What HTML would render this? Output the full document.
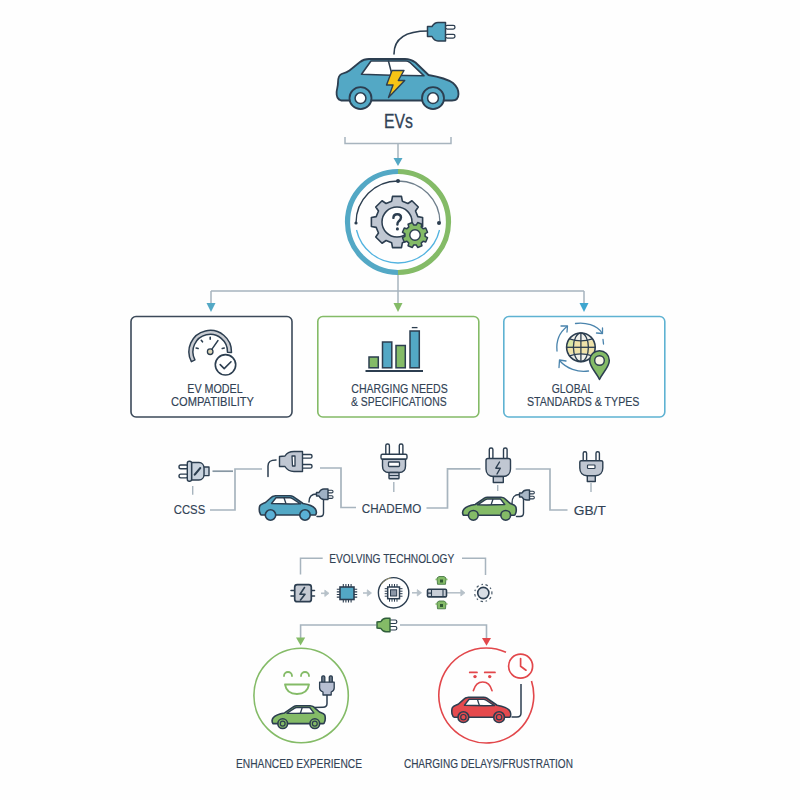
<!DOCTYPE html>
<html><head><meta charset="utf-8">
<style>
html,body{margin:0;padding:0;background:#fefefe;}
svg{display:block;font-family:"Liberation Sans", sans-serif;}
</style></head>
<body>
<svg width="800" height="800" viewBox="0 0 800 800">
<rect width="800" height="800" fill="#fefefe"/>

<g stroke="#2c3e50" stroke-linejoin="round" stroke-linecap="round">
  <path d="M394,54 C394,38 406,31 428,31" fill="none" stroke-width="1.6"/>
  <path d="M427.5,26.5 L432,26.5 C433.5,24 435,22.5 438,22.5 L445.5,22.5 L445.5,41 L438,41 C435,41 433.5,39.5 432,36.5 L427.5,36.5 Z" fill="#53a8c5" stroke-width="1.5"/>
  <rect x="445.5" y="25.4" width="9.5" height="3.7" rx="1.8" fill="#fff" stroke-width="1.3"/>
  <rect x="445.5" y="34.4" width="9.5" height="3.7" rx="1.8" fill="#fff" stroke-width="1.3"/>
  <path d="M341,100.5 C338,99.5 336.3,96 336.6,92 C336.8,89 338,86.5 338,82.5 C338,78 339,75 341.5,74 C344.5,73.2 347,72.5 349.5,70.5 L360,62 C362.5,60 365,59 369,59 L405,59 C409,59 412,60 415.5,62.5 L428.5,75 C440,77 448,79.5 453,83 C457,86.5 458.5,91 458.5,94 C458.5,98 456,100.5 452,100.5 Z" fill="#53a8c5" stroke-width="1.8"/>
  <path d="M361.5,74.2 L371,61 L406,61 C407.5,61 408.5,61.5 410,62.5 L424,75.8 C403,75.5 382,75 361.5,74.2 Z" fill="#fff" stroke-width="1.6"/>
  <path d="M388.5,61.3 L392,74.8" fill="none" stroke-width="1.5"/>
  <path d="M392,70.5 L404,70.5 L398.3,80.5 L404.7,80.5 L388.5,97.5 L393,85 L386.5,85 Z" fill="#f6c416" stroke-width="1.4"/>
  <circle cx="360.5" cy="98.2" r="11" fill="#53a8c5" stroke-width="1.8"/>
  <circle cx="360.5" cy="98.2" r="5.4" fill="#fff" stroke-width="1.5"/>
  <circle cx="433" cy="98.2" r="11" fill="#53a8c5" stroke-width="1.8"/>
  <circle cx="433" cy="98.2" r="5.4" fill="#fff" stroke-width="1.5"/>
</g>

<text x="398.5" y="128" font-size="19.5" text-anchor="middle" fill="#314255" stroke="#314255" stroke-width="0.3" textLength="29" lengthAdjust="spacingAndGlyphs" >EVs</text>

<path d="M345,137 L345,143.5 L451,143.5 L451,137" fill="none" stroke="#a7b4be" stroke-width="1.5"/>
<path d="M398,143.5 L398,160" stroke="#a7b4be" stroke-width="1.5"/>
<path d="M393.5,158 L402.5,158 L398,166 Z" fill="#53a8c5"/>


<path d="M398,171.5 A50.5,50.5 0 0 0 398,272.5" fill="none" stroke="#53a8c5" stroke-width="5.2"/>
<path d="M398,171.5 A50.5,50.5 0 0 1 398,272.5" fill="none" stroke="#84bb67" stroke-width="5.2"/>
<path d="M356,223 A42,42 0 0 1 398,181 " fill="none" stroke="#2c3e50" stroke-width="1.4"/>
<path d="M398,181 A42,42 0 0 1 440,223" fill="none" stroke="#6f7f8c" stroke-width="1.3"/>
<circle cx="398" cy="181" r="2" fill="#2c3e50"/>
<circle cx="356" cy="223" r="1.6" fill="#2c3e50"/>
<circle cx="439" cy="223" r="2" fill="#2c3e50"/>
<path d="M356.5,230 A42.6,42.6 0 0 0 439.5,230" fill="none" stroke="#52b3e0" stroke-width="1.3"/>

<path d="M391.65,201.18 L392.53,196.39 L401.47,196.39 L402.35,201.18 L407.94,203.49 L411.95,200.73 L418.27,207.05 L415.51,211.06 L417.82,216.65 L422.61,217.53 L422.61,226.47 L417.82,227.35 L415.51,232.94 L418.27,236.95 L411.95,243.27 L407.94,240.51 L402.35,242.82 L401.47,247.61 L392.53,247.61 L391.65,242.82 L386.06,240.51 L382.05,243.27 L375.73,236.95 L378.49,232.94 L376.18,227.35 L371.39,226.47 L371.39,217.53 L376.18,216.65 L378.49,211.06 L375.73,207.05 L382.05,200.73 L386.06,203.49Z" fill="#c0c7d2" stroke="#2c3e50" stroke-width="1.6" stroke-linejoin="round"/>
<circle cx="397" cy="222" r="15" fill="#fff" stroke="#2c3e50" stroke-width="1.5"/>
<path d="M393.4,217.9 C393.4,215.2 395.2,214.2 397.3,214.2 C399.6,214.2 401,215.6 401,217.6 C401,219.6 399.7,220.5 398.6,221.4 C397.7,222.2 397.4,222.9 397.4,224.6" fill="none" stroke="#2c3e50" stroke-width="2.4" stroke-linecap="round"/>
<circle cx="397.4" cy="228.9" r="1.55" fill="#2c3e50"/>
<path d="M423.11,228.81 L425.75,228.06 L427.51,232.31 L425.11,233.64 L425.11,236.36 L427.51,237.69 L425.75,241.94 L423.11,241.19 L421.19,243.11 L421.94,245.75 L417.69,247.51 L416.36,245.11 L413.64,245.11 L412.31,247.51 L408.06,245.75 L408.81,243.11 L406.89,241.19 L404.25,241.94 L402.49,237.69 L404.89,236.36 L404.89,233.64 L402.49,232.31 L404.25,228.06 L406.89,228.81 L408.81,226.89 L408.06,224.25 L412.31,222.49 L413.64,224.89 L416.36,224.89 L417.69,222.49 L421.94,224.25 L421.19,226.89Z" fill="#84bb67" stroke="#2c3e50" stroke-width="1.5" stroke-linejoin="round"/>
<circle cx="415" cy="235" r="5.2" fill="#fff" stroke="#2c3e50" stroke-width="1.4"/>

<path d="M398,275 L398,303" stroke="#a7b4be" stroke-width="1.5"/>
<path d="M211,291 L584,291 M211,291 L211,304 M584,291 L584,304" fill="none" stroke="#a7b4be" stroke-width="1.5"/>
<path d="M206.5,303 L215.5,303 L211,312 Z" fill="#53a8c5"/>
<path d="M393.5,303 L402.5,303 L398,312 Z" fill="#84bb67"/>
<path d="M579.5,303 L588.5,303 L584,312 Z" fill="#3fa6cf"/>

<rect x="131" y="316.5" width="161" height="100.5" rx="5" fill="#fff" stroke="#3c4a5a" stroke-width="1.6"/>
<rect x="317.8" y="316.5" width="161" height="100.5" rx="5" fill="#fff" stroke="#84bb67" stroke-width="1.6"/>
<rect x="503.8" y="316.5" width="161" height="100.5" rx="5" fill="#fff" stroke="#5eb2d2" stroke-width="1.6"/>
<path d="M191.39,361.70 A21.3,21.3 0 1 1 231.49,352.44 L227.49,352.30 A17.3,17.3 0 1 0 194.93,359.82 Z" fill="#c9ccd2" stroke="#2c3e50" stroke-width="1.5" stroke-linejoin="round"/>
<path d="M198.13,348.46 L196.19,347.95 M202.50,341.85 L201.27,340.27 M210.20,339.20 L210.20,337.20 M222.27,348.46 L224.21,347.95 " stroke="#2c3e50" stroke-width="1.6" stroke-linecap="round"/>
<path d="M210.2,351.7 L218,340.5" stroke="#2c3e50" stroke-width="1.4" stroke-linecap="round"/>
<circle cx="210.2" cy="351.7" r="2.8" fill="#ddd6b8" stroke="#2c3e50" stroke-width="1.3"/>
<circle cx="225.5" cy="364.8" r="10.2" fill="#fff" stroke="#2c3e50" stroke-width="1.6"/>
<path d="M220.2,364.6 L224.2,368.6 L231,361.8" fill="none" stroke="#2c3e50" stroke-width="1.6" stroke-linecap="round" stroke-linejoin="round"/>
<text x="215" y="392.5" font-size="12.8" text-anchor="middle" fill="#314255" stroke="#314255" stroke-width="0.15" textLength="55.5" lengthAdjust="spacingAndGlyphs" >EV MODEL</text>
<text x="212.5" y="406.2" font-size="12.8" text-anchor="middle" fill="#314255" stroke="#314255" stroke-width="0.15" textLength="83" lengthAdjust="spacingAndGlyphs" >COMPATIBILITY</text>

<g stroke="#2c3e50" stroke-width="1.5">
<rect x="369" y="357" width="9.3" height="10.8" fill="#84bb67"/>
<rect x="382.5" y="342" width="9.3" height="25.8" fill="#53a8c5"/>
<rect x="396" y="345.5" width="9.3" height="22.3" fill="#84bb67"/>
<rect x="410" y="331" width="9.3" height="36.8" fill="#53a8c5"/>
</g>
<path d="M365.5,371 L423,371" stroke="#2c3e50" stroke-width="1.8"/>
<path d="M411.8,327.6 L417.5,327.6" stroke="#2c3e50" stroke-width="1.3"/>

<text x="399.5" y="392.5" font-size="12.8" text-anchor="middle" fill="#314255" stroke="#314255" stroke-width="0.15" textLength="96.5" lengthAdjust="spacingAndGlyphs" >CHARGING NEEDS</text>
<text x="398.8" y="406.2" font-size="12.8" text-anchor="middle" fill="#314255" stroke="#314255" stroke-width="0.15" textLength="95.5" lengthAdjust="spacingAndGlyphs" >&amp; SPECIFICATIONS</text>

<g fill="none" stroke="#4a84ad" stroke-width="1.3" stroke-linecap="round" stroke-linejoin="round">
<path d="M575.5,323.5 C585,322 597,325 602,333"/>
<path d="M596.5,333 L602.5,333.5 L602.5,328"/>
<path d="M557,351 C556,341 560,332 567,326.5"/>
<path d="M561,326 L567.5,326 L567,332"/>
<path d="M588.5,371 C578,373 566,368 560,361"/>
<path d="M559,367.5 L559.5,360 L566,361"/>
<path d="M603,339.5 L603.5,344"/>
</g>
<clipPath id="gclip"><circle cx="580.9" cy="347.3" r="14.3"/></clipPath>
<circle cx="580.9" cy="347.3" r="14.3" fill="#f0f0ea"/>
<g clip-path="url(#gclip)"><path d="M565.9,339.8 Q580.9,342.3 595.9,339.8 L595.9,354.8 Q580.9,352.3 565.9,354.8 Z" fill="#efe2a9"/>
<path d="M565.9,339.8 L573.9,340.3 L573.4,347.3 L565.9,347.3 Z" fill="#d9e6a3"/></g>
<circle cx="580.9" cy="347.3" r="14.3" fill="none" stroke="#2c3e50" stroke-width="1.6"/>
<g fill="none" stroke="#2c3e50" stroke-width="1.3">
<ellipse cx="580.9" cy="347.3" rx="7.5" ry="14.3"/>
<path d="M580.9,333.0 L580.9,361.6"/>
<path d="M566.6,347.3 L595.1999999999999,347.3"/>
<path d="M569.4,338.8 Q580.9,342.8 592.4,338.8"/>
<path d="M569.4,355.8 Q580.9,351.8 592.4,355.8"/>
</g>
<path d="M599.5,379.5 C596,372 589.7,367 589.7,360.5 A9.8,9.8 0 0 1 609.3,360.5 C609.3,367 603,372 599.5,379.5 Z" fill="#84bb67" stroke="#2c3e50" stroke-width="1.5" stroke-linejoin="round"/>
<circle cx="599.5" cy="360.5" r="4.8" fill="#f7f5e6" stroke="#2c3e50" stroke-width="1.4"/>

<text x="572.5" y="392.5" font-size="12.8" text-anchor="middle" fill="#314255" stroke="#314255" stroke-width="0.15" textLength="41.5" lengthAdjust="spacingAndGlyphs" >GLOBAL</text>
<text x="583.2" y="406.2" font-size="12.8" text-anchor="middle" fill="#314255" stroke="#314255" stroke-width="0.15" textLength="112.5" lengthAdjust="spacingAndGlyphs" >STANDARDS &amp; TYPES</text>

<g fill="none" stroke="#a7b4be" stroke-width="1.7">
<path d="M212.5,471.2 L233,471.2" stroke="#8797a3"/>
<path d="M262,469 L235,469 L235,510 L210,510"/>
<path d="M320,468 L341,468 L341,507.5 L356,507.5"/>
<path d="M426.5,508 L447.5,508 L447.5,468.8 L480.5,468.8"/>
<path d="M515.7,469 L550,469 L550,510 L567.5,510"/>
<path d="M192.7,486 L192.7,494.7" stroke-width="1.4"/>
<path d="M393.8,482 L393.8,492" stroke-width="1.4"/>
<path d="M497.7,485 L497.7,491" stroke-width="1.4"/>
<path d="M591,483 L591,492" stroke-width="1.4"/>
</g>


<g stroke="#2c3e50" stroke-width="1.4" stroke-linejoin="round">
<rect x="179" y="465" width="9" height="3.8" rx="1.8" fill="#fff"/>
<rect x="179" y="474.1" width="9" height="3.8" rx="1.8" fill="#fff"/>
<rect x="203.5" y="467" width="5.5" height="8.6" fill="#c9d3de"/>
<path d="M191.5,462.5 L199,462.5 C202,462.5 204,465 204,468 L204,474.5 C204,477.5 202,480 199,480 L191.5,480 Z" fill="#c9d3de"/>
<rect x="187.3" y="461.3" width="4.3" height="20" rx="2" fill="#c9d3de"/>
<path d="M194.3,474.3 L199.8,467.8 C200.5,467.3 201,467.8 200.6,468.5 L195.2,474.9 C194.5,475.4 194,474.9 194.3,474.3 Z" fill="#fff" stroke-width="1.1"/>
</g>

<text x="189.5" y="514.2" font-size="13" text-anchor="middle" fill="#314255" stroke="#314255" stroke-width="0.15" textLength="31.5" lengthAdjust="spacingAndGlyphs" >CCSS</text>

<g stroke="#2c3e50" stroke-width="1.4" stroke-linejoin="round" stroke-linecap="round">
<path d="M268,476.5 L268,466 C268,461 271,460 276,460" fill="none" stroke-width="1.5"/>
<rect x="301" y="454.5" width="11" height="3.6" rx="1.6" fill="#fff"/>
<rect x="301" y="464.5" width="11" height="3.6" rx="1.6" fill="#fff"/>
<path d="M279.5,456.5 L285,456 C287,452.5 290,451.5 294,451.5 L302.5,451.5 L302.5,471.5 L294,471.5 C290,471.5 287,470 285,466.5 L279.5,466.5 Z" fill="#c0c7d2"/>
<path d="M292,456 L295,456 L295,466 L292.5,466 Z" fill="#fff" stroke-width="1.3"/>
</g>

<g transform="translate(259,495.5) scale(1.0)" stroke="#2c3e50" stroke-width="1.60" stroke-linejoin="round">
<path d="M1,17.5 C0,16 0,11.5 1,10 C2,8.5 4,8 6.5,7 L11,3 C12.5,1.2 14,0.2 16.5,0.2 L31,0.2 C32.5,0.2 33.2,0.5 34.2,1.2 L44,8 C50,9 54,10.5 56,13 C57.5,15 57.5,18 56.5,19.5 L2.5,19.5 C1.8,19.5 1.2,18.5 1,17.5 Z" fill="#53a8c5"/>
<path d="M12.5,8 L17,2.2 L31,2.2 C32,2.2 32.6,2.5 33.5,3.1 L41.5,8.3 C32,8.6 22,8.4 12.5,8 Z" fill="#fff" stroke-width="1.40"/>
<path d="M25,2.2 L27,8.3" fill="none" stroke-width="1.30"/>
<circle cx="11.5" cy="19.5" r="5.2" fill="#5ab0d6"/>
<circle cx="46" cy="19.5" r="5.2" fill="#5ab0d6"/>

</g>

<g stroke="#2c3e50" stroke-width="1.4" stroke-linejoin="round" stroke-linecap="round">
<path d="M317,516.5 L320,516.5 C322,516.5 323.5,515 323.5,513 L323.5,499" fill="none"/>
<path d="M309,502 C309,496 312,494 316.5,494" fill="none"/>
<rect x="327.5" y="490.3" width="5.5" height="2.6" rx="1.2" fill="#fff" stroke-width="1.1"/>
<rect x="327.5" y="495.8" width="5.5" height="2.6" rx="1.2" fill="#fff" stroke-width="1.1"/>
<path d="M316.5,492.5 L319,492.5 C320,490.5 321.5,489 324,489 L328,489 L328,499.5 L324,499.5 C321.5,499.5 320,498 319,496 L316.5,496 Z" fill="#9fb1c4"/>
</g>

<text x="391.5" y="512.5" font-size="13" text-anchor="middle" fill="#314255" stroke="#314255" stroke-width="0.15" textLength="59.5" lengthAdjust="spacingAndGlyphs" >CHADEMO</text>

<g stroke="#2c3e50" stroke-width="1.4" stroke-linejoin="round">
<rect x="385.8" y="444" width="3.6" height="11" rx="1.6" fill="#fff"/>
<rect x="399.3" y="444" width="3.6" height="11" rx="1.6" fill="#fff"/>
<rect x="381" y="454.3" width="26" height="5" rx="1.5" fill="#fff"/>
<path d="M382.5,459.3 L405.5,459.3 L405.5,466 C405.5,470 403,472.5 399,472.5 L389,472.5 C385,472.5 382.5,470 382.5,466 Z" fill="#c0c7d2"/>
<rect x="388.5" y="462" width="11" height="4.5" rx="0.8" fill="#fff" stroke-width="1.3"/>
<rect x="389" y="472.5" width="10" height="6.3" rx="0.8" fill="#c0c7d2"/>
<path d="M389,475.5 L399,475.5" stroke-width="1"/>
</g>


<g stroke="#2c3e50" stroke-width="1.4" stroke-linejoin="round" stroke-linecap="round">
<rect x="489.3" y="448" width="3.6" height="11" rx="1.6" fill="#fff"/>
<rect x="503.5" y="448" width="3.6" height="11" rx="1.6" fill="#fff"/>
<path d="M486,460.5 C486,459 486.5,458.5 488,458.5 L508.5,458.5 C510,458.5 510.5,459 510.5,460.5 L510.5,469 C510.5,473.5 507.5,476.5 503,476.5 L493.5,476.5 C489,476.5 486,473.5 486,469 Z" fill="#c0c7d2"/>
<rect x="493.3" y="476.5" width="10" height="6" fill="#c0c7d2"/>
<path d="M499.5,462 L495.8,468.2 L500.3,468.2 L497,474" fill="none" stroke-width="1.4"/>
</g>

<g transform="translate(516.5,497) scale(-0.9391304347826087,0.9391304347826087)" stroke="#2c3e50" stroke-width="1.70" stroke-linejoin="round">
<path d="M1,17.5 C0,16 0,11.5 1,10 C2,8.5 4,8 6.5,7 L11,3 C12.5,1.2 14,0.2 16.5,0.2 L31,0.2 C32.5,0.2 33.2,0.5 34.2,1.2 L44,8 C50,9 54,10.5 56,13 C57.5,15 57.5,18 56.5,19.5 L2.5,19.5 C1.8,19.5 1.2,18.5 1,17.5 Z" fill="#84bb67"/>
<path d="M12.5,8 L17,2.2 L31,2.2 C32,2.2 32.6,2.5 33.5,3.1 L41.5,8.3 C32,8.6 22,8.4 12.5,8 Z" fill="#fff" stroke-width="1.49"/>
<path d="M25,2.2 L27,8.3" fill="none" stroke-width="1.38"/>
<circle cx="11.5" cy="19.5" r="5.2" fill="#84bb67"/>
<circle cx="46" cy="19.5" r="5.2" fill="#84bb67"/>

</g>

<g stroke="#2c3e50" stroke-width="1.4" stroke-linejoin="round" stroke-linecap="round">
<path d="M516.5,516.5 L520,516.5 C522,516.5 523.5,515 523.5,513 L523.5,499" fill="none"/>
<path d="M512,503.5 C512,497 514,494.5 519.5,494.5" fill="none"/>
<rect x="529" y="491.3" width="5.3" height="2.6" rx="1.2" fill="#fff" stroke-width="1.1"/>
<rect x="529" y="496.3" width="5.3" height="2.6" rx="1.2" fill="#fff" stroke-width="1.1"/>
<path d="M519.5,493 L522,493 C523,491 524.5,490 527,490 L529.5,490 L529.5,500 L527,500 C524.5,500 523,499 522,497 L519.5,497 Z" fill="#a9b7c6"/>
</g>


<g stroke="#2c3e50" stroke-width="1.4" stroke-linejoin="round">
<rect x="583.2" y="451.7" width="3.4" height="10" rx="1.5" fill="#fff"/>
<rect x="596" y="451.7" width="3.4" height="10" rx="1.5" fill="#fff"/>
<path d="M579.8,462 C579.8,461 580.3,460.7 581.3,460.7 L601.3,460.7 C602.3,460.7 602.8,461 602.8,462 L602.8,468 C602.8,472.5 600,475.7 595.5,475.7 L587,475.7 C582.5,475.7 579.8,472.5 579.8,468 Z" fill="#c0c7d2"/>
<rect x="587.5" y="465" width="7.5" height="3.5" rx="0.8" fill="#fff" stroke-width="1.2"/>
<rect x="587.3" y="475.7" width="8" height="5.8" fill="#c0c7d2"/>
</g>

<text x="589.8" y="514.6" font-size="13" text-anchor="middle" fill="#314255" stroke="#314255" stroke-width="0.15" textLength="32" lengthAdjust="spacingAndGlyphs" >GB/T</text>

<g fill="none" stroke="#a7b4be" stroke-width="1.5">
<path d="M300.5,574.5 L300.5,558.3 L322.7,558.3"/>
<path d="M462,558.3 L485.5,558.3 L485.5,575"/>
</g>

<text x="391.8" y="563.2" font-size="12" text-anchor="middle" fill="#314255" stroke="#314255" stroke-width="0.15" textLength="125" lengthAdjust="spacingAndGlyphs" >EVOLVING TECHNOLOGY</text>

<g stroke="#2c3e50" stroke-width="1.5" stroke-linecap="round" stroke-linejoin="round">
<path d="M291,590.5 L294.7,590.5 M291,596 L294.7,596 M311.3,590.5 L314.5,590.5 M311.3,596 L314.5,596" fill="none"/>
<rect x="294.7" y="584.7" width="16.6" height="17" rx="2.5" fill="#c5cad3" stroke-width="1.7"/>
<path d="M304.5,587.5 L300,594.3 L305,594.3 L300.5,600" fill="none" stroke-width="1.6"/>
</g>

<path d="M321,593.3 L327,593.3" stroke="#b7c1c9" stroke-width="1.6"/><path d="M324.8,590.0999999999999 L329,593.3 L324.8,596.5 Z" fill="#b7c1c9" stroke="#b7c1c9" stroke-width="0.8" stroke-linejoin="round"/>
<path d="M363,593 L369.5,593" stroke="#b7c1c9" stroke-width="1.6"/><path d="M367.3,589.8 L371.5,593 L367.3,596.2 Z" fill="#b7c1c9" stroke="#b7c1c9" stroke-width="0.8" stroke-linejoin="round"/>
<path d="M412,592.8 L419.5,592.8" stroke="#b7c1c9" stroke-width="1.6"/><path d="M417.3,589.5999999999999 L421.5,592.8 L417.3,596.0 Z" fill="#b7c1c9" stroke="#b7c1c9" stroke-width="0.8" stroke-linejoin="round"/>
<path d="M447,592.8 L463,592.8" stroke="#b7c1c9" stroke-width="1.6"/><path d="M460.8,589.5999999999999 L465,592.8 L460.8,596.0 Z" fill="#b7c1c9" stroke="#b7c1c9" stroke-width="0.8" stroke-linejoin="round"/>
<path d="M343.3,584 L343.3,587 M343.3,599.5 L343.3,602.5 M345.9,584 L345.9,587 M345.9,599.5 L345.9,602.5 M348.5,584 L348.5,587 M348.5,599.5 L348.5,602.5 M351.1,584 L351.1,587 M351.1,599.5 L351.1,602.5 M336.8,589.3 L340,589.3 M354,589.3 L357.2,589.3 M336.8,591.9 L340,591.9 M354,591.9 L357.2,591.9 M336.8,594.5 L340,594.5 M354,594.5 L357.2,594.5 M336.8,597.1 L340,597.1 M354,597.1 L357.2,597.1 " stroke="#2c3e50" stroke-width="1.1"/>
<rect x="340" y="587" width="14" height="12.5" fill="#53a8c5" stroke="#2c3e50" stroke-width="1.6"/>
<circle cx="393.6" cy="592.8" r="15.2" fill="#fff" stroke="#2c3e50" stroke-width="1.4"/>
<path d="M381,585 A15.2,15.2 0 0 1 391,577.8" fill="none" stroke="#d9c27a" stroke-width="1" opacity="0.6"/>
<path d="M389.5,584 L389.5,587 M389.5,598.7 L389.5,601.7 M392,584 L392,587 M392,598.7 L392,601.7 M394.5,584 L394.5,587 M394.5,598.7 L394.5,601.7 M397,584 L397,587 M397,598.7 L397,601.7 M384.7,588.7 L387.7,588.7 M399.5,588.7 L402.5,588.7 M384.7,591.2 L387.7,591.2 M399.5,591.2 L402.5,591.2 M384.7,593.7 L387.7,593.7 M399.5,593.7 L402.5,593.7 M384.7,596.2 L387.7,596.2 M399.5,596.2 L402.5,596.2 " stroke="#2c3e50" stroke-width="1"/>
<rect x="387.7" y="587" width="11.8" height="11.7" fill="#fff" stroke="#2c3e50" stroke-width="1.5"/>
<rect x="390.5" y="589.8" width="6.2" height="6.2" fill="#8a96a6" stroke="#2c3e50" stroke-width="1"/>

<rect x="427.5" y="589.3" width="19" height="7.6" rx="1.2" fill="#c8ced7" stroke="#2c3e50" stroke-width="1.6"/>
<path d="M431.5,589.3 L431.5,596.9 M427.5,593.1 L431.5,593.1 M443,589.3 L443,596.9" stroke="#2c3e50" stroke-width="1.1"/>

<g stroke="#3a6d3a" stroke-width="0.8">
<path d="M437.0,578.0 L439.0,576.5 L444.0,576.5 L446.0,578.0 L445.5,584.3 L437.5,584.3 Z" fill="#84bb67"/>
<path d="M435.5,579.5 L437.2,579.5 M445.8,579.5 L447.5,579.5" stroke="#84bb67" stroke-width="1.5"/>
<rect x="440.0" y="579.5" width="3" height="3" fill="#2f5a32" stroke="none"/>
</g>
<g stroke="#3a6d3a" stroke-width="0.8">
<path d="M437.0,602.5 L439.0,601 L444.0,601 L446.0,602.5 L445.5,608.8 L437.5,608.8 Z" fill="#84bb67"/>
<path d="M435.5,604 L437.2,604 M445.8,604 L447.5,604" stroke="#84bb67" stroke-width="1.5"/>
<rect x="440.0" y="604" width="3" height="3" fill="#2f5a32" stroke="none"/>
</g>
<circle cx="483.3" cy="593" r="5.6" fill="#d9dee5" stroke="#2c3e50" stroke-width="1.6"/>
<circle cx="483.3" cy="593" r="8.6" fill="none" stroke="#2c3e50" stroke-width="1.2" stroke-dasharray="1.5 2.6 2.5 3" opacity="0.85"/>

<g fill="none" stroke="#a7b4be" stroke-width="1.6">
<path d="M376.5,625 L300.6,625 L300.6,638"/>
<path d="M400,625 L486.5,625 L486.5,638"/>
</g>
<path d="M296,637.6 L305.2,637.6 L300.6,645.5 Z" fill="#84bb67"/>
<path d="M482,638 L491,638 L486.5,645.8 Z" fill="#e2474b"/>
<g stroke="#2f5e3a" stroke-width="1.4" stroke-linejoin="round">
<rect x="389" y="620" width="7.8" height="3.5" rx="1.5" fill="#fff" stroke="#2c3e50" stroke-width="1.2"/>
<rect x="389" y="626.5" width="7.8" height="3.5" rx="1.5" fill="#fff" stroke="#2c3e50" stroke-width="1.2"/>
<path d="M377,622 L381,621.5 C382,619.5 383.5,618.3 386,618.3 L390,618.3 L390,631.8 L386,631.8 C383.5,631.8 382,630.5 381,628.5 L377,628 Z" fill="#84bb67"/>
</g>

<circle cx="301.1" cy="695.5" r="47.2" fill="none" stroke="#84bb67" stroke-width="1.6"/>

<g fill="none" stroke="#84bb67" stroke-width="1.8" stroke-linecap="round">
<path d="M284,676 A4,4 0 0 1 292,676"/>
<path d="M301,676 A4,4 0 0 1 309,676"/>
</g>
<path d="M285,684.5 L309,684.5 C308,690.5 303.5,694 297,694 C290.5,694 286,690.5 285,684.5 Z" fill="#fff" stroke="#84bb67" stroke-width="1.8" stroke-linejoin="round"/>


<g stroke="#2c3e50" stroke-width="1.3" stroke-linejoin="round" stroke-linecap="round">
<path d="M327,695 L327,703.5 C327,706 325.5,707.2 323,707.2 L314,707.5" fill="none" stroke-width="1.5"/>
<rect x="321.8" y="675.8" width="3" height="7.5" rx="1.3" fill="#6d7a8a"/>
<rect x="329.3" y="675.8" width="3" height="7.5" rx="1.3" fill="#6d7a8a"/>
<path d="M319.6,682.2 L334.2,682.2 L334.2,688 C334.2,690 333,691.2 331.2,692 L331.2,695 L323,695 L323,692 C321,691.2 319.6,690 319.6,688 Z" fill="#b7bfd2"/>
</g>

<g transform="translate(325.5,705.5) scale(-0.9304347826086956,0.9304347826086956)" stroke="#2c3e50" stroke-width="1.72" stroke-linejoin="round">
<path d="M1,17.5 C0,16 0,11.5 1,10 C2,8.5 4,8 6.5,7 L11,3 C12.5,1.2 14,0.2 16.5,0.2 L31,0.2 C32.5,0.2 33.2,0.5 34.2,1.2 L44,8 C50,9 54,10.5 56,13 C57.5,15 57.5,18 56.5,19.5 L2.5,19.5 C1.8,19.5 1.2,18.5 1,17.5 Z" fill="#84bb67"/>
<path d="M12.5,8 L17,2.2 L31,2.2 C32,2.2 32.6,2.5 33.5,3.1 L41.5,8.3 C32,8.6 22,8.4 12.5,8 Z" fill="#fff" stroke-width="1.50"/>
<path d="M25,2.2 L27,8.3" fill="none" stroke-width="1.40"/>
<circle cx="11.5" cy="19.5" r="5.2" fill="#84bb67"/>
<circle cx="46" cy="19.5" r="5.2" fill="#84bb67"/>
<circle cx="11.5" cy="19.5" r="2.6" fill="#84bb67" stroke-width="1.29"/><circle cx="46" cy="19.5" r="2.6" fill="#84bb67" stroke-width="1.29"/>
</g>
<text x="299" y="767.8" font-size="12" text-anchor="middle" fill="#314255" stroke="#314255" stroke-width="0.15" textLength="126" lengthAdjust="spacingAndGlyphs" >ENHANCED EXPERIENCE</text>
<path d="M506,652.3 A47.5,47.5 0 1 0 531.5,681" fill="none" stroke="#e2474b" stroke-width="1.6"/>

<circle cx="520.6" cy="666.2" r="12" fill="#fff" stroke="#e2474b" stroke-width="1.7"/>
<path d="M520.6,658.6 L520.6,666.2 L526,670.2" fill="none" stroke="#e2474b" stroke-width="1.7" stroke-linecap="round" stroke-linejoin="round"/>
<g stroke="#e2474b" stroke-width="1.7" stroke-linecap="round" fill="none">
<path d="M469.7,672.4 L477,672.4 M484.7,672.4 L495,672.4"/>
<path d="M473.4,690.6 C475,685 478.5,682 482.7,682 C487,682 490.5,685 492,690.6"/>
</g>
<circle cx="475" cy="676.6" r="1.7" fill="#e2474b"/>
<circle cx="489.7" cy="676.6" r="1.7" fill="#e2474b"/>
<path d="M511.5,717 L517,717 C519.5,717 521,715.5 521,713 L521,684" fill="none" stroke="#2c3e50" stroke-width="1.5"/>

<g transform="translate(451.5,697) scale(1.0347826086956522)" stroke="#2c3e50" stroke-width="1.55" stroke-linejoin="round">
<path d="M1,17.5 C0,16 0,11.5 1,10 C2,8.5 4,8 6.5,7 L11,3 C12.5,1.2 14,0.2 16.5,0.2 L31,0.2 C32.5,0.2 33.2,0.5 34.2,1.2 L44,8 C50,9 54,10.5 56,13 C57.5,15 57.5,18 56.5,19.5 L2.5,19.5 C1.8,19.5 1.2,18.5 1,17.5 Z" fill="#e54a4e"/>
<path d="M12.5,8 L17,2.2 L31,2.2 C32,2.2 32.6,2.5 33.5,3.1 L41.5,8.3 C32,8.6 22,8.4 12.5,8 Z" fill="#fff" stroke-width="1.35"/>
<path d="M25,2.2 L27,8.3" fill="none" stroke-width="1.26"/>
<circle cx="11.5" cy="19.5" r="5.2" fill="#e54a4e"/>
<circle cx="46" cy="19.5" r="5.2" fill="#e54a4e"/>
<circle cx="11.5" cy="19.5" r="2.6" fill="#e54a4e" stroke-width="1.16"/><circle cx="46" cy="19.5" r="2.6" fill="#e54a4e" stroke-width="1.16"/>
</g>
<text x="488.4" y="767.8" font-size="12" text-anchor="middle" fill="#314255" stroke="#314255" stroke-width="0.15" textLength="169" lengthAdjust="spacingAndGlyphs" >CHARGING DELAYS/FRUSTRATION</text>
</svg>
</body></html>
